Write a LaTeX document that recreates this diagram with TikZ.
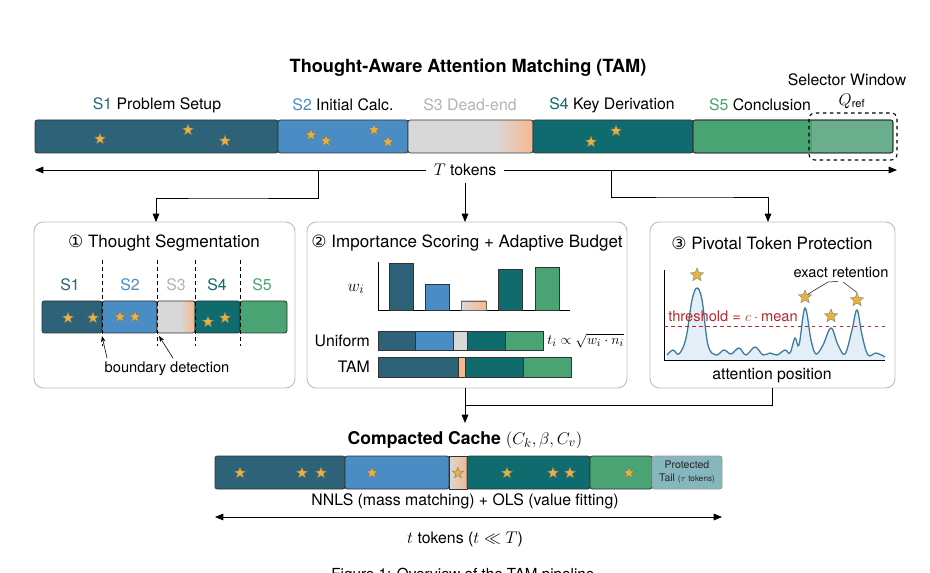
\documentclass[tikz,border=0pt]{standalone}
\usepackage{fontspec}
\setmainfont{TeX Gyre Heros}
\newfontfamily\circfont{DejaVu Sans}
\usepackage{amsmath,amssymb}
\usepackage{tikz}
\usetikzlibrary{arrows.meta,shapes.geometric,positioning}

\definecolor{cSone}{HTML}{2E6279}
\definecolor{cStwo}{HTML}{4A8CC4}
\definecolor{cSthree}{HTML}{D8D8D8}
\definecolor{cOrange}{HTML}{F5B98D}
\definecolor{cSfour}{HTML}{0F6B6E}
\definecolor{cSfive}{HTML}{4AA373}
\definecolor{cSel}{HTML}{6AAE8E}
\definecolor{cTail}{HTML}{86B7BE}
\definecolor{cStar}{HTML}{E8B33A}
\definecolor{cRed}{HTML}{B8282C}
\definecolor{cCurve}{HTML}{3A7CA0}

\tikzset{
  seg/.style={draw=black!80,line width=0.7pt,rounded corners=2pt},
  tstar/.style={star,star points=5,star point ratio=2.3,fill=cStar,draw=black!55,
    line width=0.3pt,inner sep=0pt,minimum size=10pt},
  panel/.style={draw=black!25,line width=0.8pt,rounded corners=8pt,fill=white},
  flow/.style={-{Triangle[length=2.5mm,width=2mm]},line width=0.7pt},
  lab/.style={font=\fontsize{13.5}{16}\selectfont},
  small/.style={font=\fontsize{12.5}{15}\selectfont},
  ttl/.style={font=\fontsize{14.5}{18}\selectfont},
}

\begin{document}
\begin{tikzpicture}[x=0.03cm,y=-0.03cm]
    \useasboundingbox (0,0) rectangle (930,573);

    % Title
    \node[font=\bfseries\fontsize{15.5}{18}\selectfont] (title) at (468,68) {Thought-Aware Attention Matching (TAM)};

    % Top token bar
    \fill[seg,fill=cSone] (35,120) rectangle (278,153);
    \fill[seg,fill=cStwo] (278,120) rectangle (408,153);
    \fill[rounded corners=2pt,fill=cSthree] (408,120) rectangle (533,153);
    \shade[left color=cSthree,right color=cOrange] (495,121) rectangle (532,152);
    \draw[seg] (408,120) rectangle (533,153);
    \fill[seg,fill=cSfour] (533,120) rectangle (693,153);
    \fill[seg,fill=cSfive] (693,120) rectangle (893,153);
    \fill[cSel] (812,121) rectangle (892,152);
    \draw[seg] (693,120) rectangle (893,153);
    \draw[dashed,line width=0.9pt,rounded corners=5pt] (809,113) rectangle (897,160);

    % Segment labels
    \node[lab] (l1) at (157,105) {\textcolor{cSone}{S1} Problem Setup};
    \node[lab] (l2) at (343,105) {\textcolor{cStwo}{S2} Initial Calc.};
    \node[lab,text=black!30] (l3) at (470,105) {S3 Dead-end};
    \node[lab] (l4) at (612,105) {\textcolor{cSfour}{S4} Key Derivation};
    \node[lab] (l5) at (760,105) {\textcolor{cSfive}{S5} Conclusion};
    \node[lab] (selw) at (847,80) {Selector Window};
    \node[lab] (qref) at (852,101) {$Q_{\mathrm{ref}}$};

    % Stars on the top bar
    \foreach \x/\y [count=\i] in {100/139,188/130,225/141,311/135,326/141,374/130,388/142,591/142,616/131}
      \node[tstar] (ts\i) at (\x,\y) {};

    % T tokens
    \node[lab,fill=white,inner sep=6pt] (Ttok) at (465,170) {$T$ tokens};
    \coordinate (tL) at (35,170);
    \coordinate (tR) at (897,170);
    \draw[{Triangle[length=2.5mm,width=2mm]}-,line width=0.7pt] (tL) -- (Ttok);
    \draw[-{Triangle[length=2.5mm,width=2mm]},line width=0.7pt] (Ttok) -- (tR);

    % Panels
    \draw[panel] (34,222) rectangle (295,388);
    \draw[panel] (307,222) rectangle (627,388);
    \draw[panel] (650,222) rectangle (895,388);
    \coordinate (p1top) at (156,222);
    \coordinate (p2top) at (465,222);
    \coordinate (p3top) at (768,222);
    \coordinate (p2bot) at (465,388);
    \coordinate (p3bot) at (772,388);

    % Flow down to the panels
    \draw[flow] (318,170) |- (220,198) -| (p1top);
    \draw[flow] (Ttok.south) -- (p2top);
    \draw[flow] (611,170) |- (700,197) -| (p3top);

    % Panel 1: segmentation
    \node[ttl] (t1) at (164,243) {{\circfont\char"2460}\ Thought Segmentation};
    \fill[seg,fill=cSone] (42,301) rectangle (102,333);
    \fill[seg,fill=cStwo] (102,301) rectangle (157,333);
    \fill[rounded corners=2pt,fill=cSthree] (157,301) rectangle (195,333);
    \shade[left color=cSthree,right color=cOrange] (180,302) rectangle (194,332);
    \draw[seg] (157,301) rectangle (195,333);
    \fill[seg,fill=cSfour] (195,301) rectangle (240,333);
    \fill[seg,fill=cSfive] (240,301) rectangle (287,333);
    \foreach \x in {102,157,195,240}
      \draw[dashed,line width=0.7pt] (\x,260) -- (\x,346);
    \foreach \x/\t/\c [count=\i] in {70/S1/cSone,130/S2/cStwo,176/S3/black!30,217/S4/cSfour,262/S5/cSfive}
      \node[lab,text=\c] (s\i) at (\x,285) {\t};
    \foreach \x/\y [count=\i] in {68/318,93/318,120/317,135/317,208/322,225/318}
      \node[tstar] (ps\i) at (\x,\y) {};
    \node[small] (bdet) at (167,369) {boundary detection};
    \coordinate (b1) at (102,336);
    \coordinate (b2) at (159,336);
    \draw[-{Stealth[length=1.8mm]},line width=0.5pt] (107,358) -- (b1);
    \draw[-{Stealth[length=1.8mm]},line width=0.5pt] (173,358) -- (b2);

    % Panel 2: scoring and budget
    \node[ttl] (t2) at (467,243) {{\circfont\char"2461}\ Importance Scoring + Adaptive Budget};
    \draw[line width=0.7pt] (378,262) -- (378,310) -- (570,310);
    \node[font=\fontsize{15}{17}\selectfont] (wi) at (356,289) {$w_i$};
    \draw[seg,rounded corners=0pt,fill=cSone] (389,263) rectangle (413,310);
    \draw[seg,rounded corners=0pt,fill=cStwo] (425,284) rectangle (449,310);
    \shade[left color=cSthree,right color=cOrange,draw=black!60] (461,301) rectangle (486,310);
    \draw[seg,rounded corners=0pt,fill=cSfour] (498,269) rectangle (522,310);
    \draw[seg,rounded corners=0pt,fill=cSfive] (535,267) rectangle (559,310);
    % Uniform budget
    \foreach \a/\b/\c in {378/415/cSone,415/453/cStwo,453/467/cSthree,467/505/cSfour,505/543/cSfive}
      \draw[seg,rounded corners=0pt,fill=\c] (\a,331) rectangle (\b,350);
    \node[lab,anchor=east] (uni) at (374,341) {Uniform};
    \node[font=\fontsize{13}{16}\selectfont,anchor=west,inner sep=1pt] (tform) at (546,341) {$t_i \propto \sqrt{w_i\cdot n_i}$};
    % TAM budget
    \foreach \a/\b/\c in {378/458/cSone,458/465/cOrange,465/523/cSfour,523/571/cSfive}
      \draw[seg,rounded corners=0pt,fill=\c] (\a,357) rectangle (\b,377);
    \node[lab,anchor=east] (tam) at (374,367) {TAM};

    % Panel 3: pivotal tokens
    \node[ttl] (t3) at (772,243) {{\circfont\char"2462}\ Pivotal Token Protection};
    \fill[cStwo!15] (667,360) -- plot[smooth,tension=0.6] coordinates {(667,355) (673,350) (679,354) (686,338) (692,300) (697,288) (702,300) (708,345) (716,355) (724,350) (731,354) (739,348) (746,355) (755,347) (763,355) (770,353) (777,355) (785,350) (790,353) (795,338) (799,345) (805,308) (811,340) (816,354) (823,345) (831,328) (838,345) (845,354) (852,330) (857,310) (862,335) (868,355) (876,353) (885,357)} -- (885,360) -- cycle;
    \draw[cCurve,line width=1.1pt] plot[smooth,tension=0.6] coordinates {(667,355) (673,350) (679,354) (686,338) (692,300) (697,288) (702,300) (708,345) (716,355) (724,350) (731,354) (739,348) (746,355) (755,347) (763,355) (770,353) (777,355) (785,350) (790,353) (795,338) (799,345) (805,308) (811,340) (816,354) (823,345) (831,328) (838,345) (845,354) (852,330) (857,310) (862,335) (868,355) (876,353) (885,357)};
    \draw[line width=0.7pt] (664,270) -- (664,360) -- (885,360);
    \draw[cRed,dashed,line width=0.8pt] (664,326) -- (885,326);
    \node[font=\fontsize{12.5}{15}\selectfont,text=cRed] (thr) at (733,316) {threshold = $c\cdot{}$mean};
    \node[tstar,minimum size=12pt] (pk1) at (697,275) {};
    \node[tstar,minimum size=12pt] (pk2) at (805,297) {};
    \node[tstar,minimum size=12pt] (pk3) at (831,316) {};
    \node[tstar,minimum size=12pt] (pk4) at (857,300) {};
    \node[small] (exret) at (841,272) {exact retention};
    \draw[line width=0.4pt] (pk2.north east) -- (828,282) -- (exret.south -| 838,0);
    \draw[line width=0.4pt] (pk4.north) -- (843,282);
    \node[lab] (apos) at (772,376) {attention position};

    % Flow into compacted cache
    \coordinate (cc) at (465,423);
    \draw[flow] (p2bot) -- (cc);
    \draw[line width=0.7pt] (p3bot) |- (465,405);

    % Compacted cache
    \node[font=\bfseries\fontsize{15}{18}\selectfont] (ctitle) at (465,440) {Compacted Cache $(C_k,\beta,C_v)$};
    \fill[seg,fill=cSone] (215,456) rectangle (345,489);
    \fill[seg,fill=cStwo] (345,456) rectangle (449,489);
    \shade[left color=cSthree,right color=cOrange] (449,456) rectangle (467,489);
    \draw[seg,rounded corners=0pt] (449,456) rectangle (467,489);
    \fill[seg,fill=cSfour] (467,456) rectangle (590,489);
    \fill[seg,fill=cSfive] (590,456) rectangle (652,489);
    \fill[seg,fill=cTail,draw=black!40] (652,456) rectangle (722,489);
    \node[align=center,font=\fontsize{9}{10.5}\selectfont,text=black!85] (tail) at (687,472) {Protected\\Tail {\fontsize{7}{8}\selectfont($\tau$ tokens)}};
    \foreach \x [count=\i] in {240,302,321,372,458,507,553,570,629}
      \node[tstar] (cs\i) at (\x,473) {};
    \node[lab] (nnls) at (465,501) {NNLS (mass matching) + OLS (value fitting)};
    \coordinate (cL) at (215,517);
    \coordinate (cR) at (722,517);
    \draw[{Triangle[length=2.5mm,width=2mm]}-{Triangle[length=2.5mm,width=2mm]},line width=0.7pt] (cL) -- (cR);
    \node[lab] (ttok) at (465,539) {$t$ tokens ($t \ll T$)};

    % Caption, cut off at the page edge
    \node[font=\rmfamily\fontsize{13}{15}\selectfont,anchor=north] (cap) at (465,564) {Figure 1: Overview of the TAM pipeline.};
\end{tikzpicture}
\end{document}
